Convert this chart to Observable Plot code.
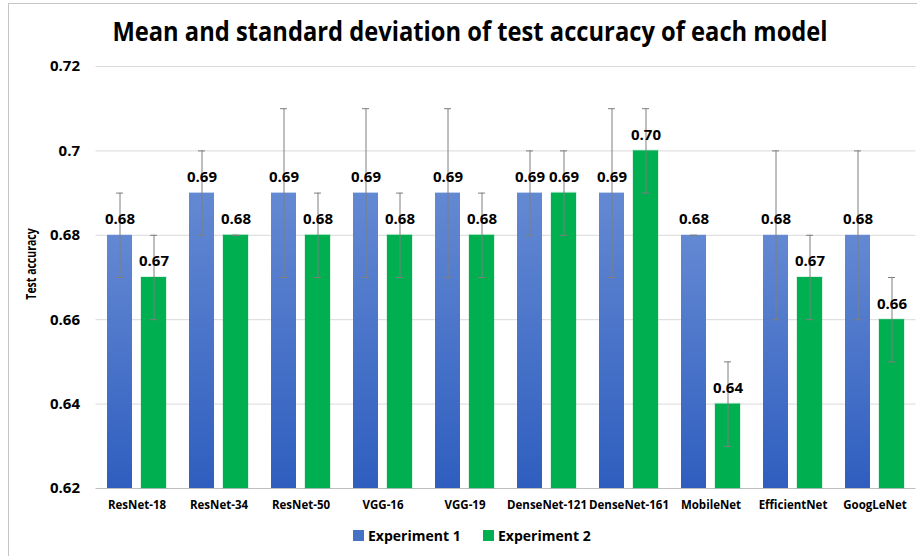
<!DOCTYPE html>
<html>
<head>
<meta charset="utf-8">
<script src="https://cdn.jsdelivr.net/npm/d3@7"></script>
<script src="https://cdn.jsdelivr.net/npm/@observablehq/plot@0.6"></script>
<style>
  html, body { margin: 0; padding: 0; background: #fff; }
  #wrap { position: relative; width: 917px; height: 556px; overflow: hidden; font-family: "Open Sans", sans-serif; }
  #title { position: absolute; top: 13px; left: 469.5px; transform: translateX(-50%) scaleX(0.895); white-space: nowrap;
           font-weight: 700; font-size: 26.5px; line-height: 36px; color: #000; }
  #ylabel { position: absolute; left: 31px; top: 264px; transform: translate(-50%, -50%) rotate(-90deg) scaleX(0.75);
            white-space: nowrap; font-weight: 700; font-size: 14px; line-height: 16px; color: #000; }
  #chart { position: absolute; top: 50px; left: 0; }
  #legend { position: absolute; top: 524px; left: 0; width: 917px; height: 24px; font-size: 14px; font-weight: 700; }
  .li { position: absolute; top: 0; display: flex; align-items: center; height: 22px; white-space: nowrap; }
  .sw { width: 11px; height: 11px; margin-right: 4px; }
  .bt { position: absolute; background: #c6c6c6; }
</style>
</head>
<body>
<div id="wrap">
  <div class="bt" style="left:8px; top:3px; width:909px; height:1px;"></div>
  <div class="bt" style="left:8px; top:3px; width:1px; height:553px;"></div>
  <div id="title">Mean and standard deviation of test accuracy of each model</div>
  <div id="chart"></div>
  <div id="ylabel">Test accuracy</div>
  <div id="legend">
    <div class="li" style="left:353px;"><div class="sw" style="background:#4472c4"></div>Experiment 1</div>
    <div class="li" style="left:483px;"><div class="sw" style="background:#00b050"></div>Experiment 2</div>
  </div>
</div>
<script>
const models = ["ResNet-18", "ResNet-34", "ResNet-50", "VGG-16", "VGG-19", "DenseNet-121", "DenseNet-161", "MobileNet", "EfficientNet", "GoogLeNet"];
const exp1Mean = [0.68, 0.69, 0.69, 0.69, 0.69, 0.69, 0.69, 0.68, 0.68, 0.68];
const exp1Std  = [0.01, 0.01, 0.02, 0.02, 0.02, 0.01, 0.02, 0.00, 0.02, 0.02];
const exp2Mean = [0.67, 0.68, 0.68, 0.68, 0.68, 0.69, 0.70, 0.64, 0.67, 0.66];
const exp2Std  = [0.01, 0.00, 0.01, 0.01, 0.01, 0.01, 0.01, 0.01, 0.01, 0.01];
const yTicks = [0.62, 0.64, 0.66, 0.68, 0.70, 0.72];
const yTickLabels = ["0.62", "0.64", "0.66", "0.68", "0.7", "0.72"];
const yMin = 0.62, yMax = 0.72;

const e1 = models.map((m, i) => ({model: m, mean: exp1Mean[i], lo: exp1Mean[i] - exp1Std[i], hi: exp1Mean[i] + exp1Std[i], base: yMin}));
const e2 = models.map((m, i) => ({model: m, mean: exp2Mean[i], lo: exp2Mean[i] - exp2Std[i], hi: exp2Mean[i] + exp2Std[i], base: yMin}));

const BW = 82;          // band width in px (derived from layout)
const barW = 25, gap = 9;
const outer = (BW - 2 * barW - gap) / 2;   // 11.5
const c1 = outer + barW / 2;               // center of exp1 bar from band left
const c2 = outer + barW + gap + barW / 2;  // center of exp2 bar
const capHalf = 3.5;
const fmt = d3.format(".2f");
const errColor = "#7f7f7f";

const labelFont = {fontSize: 15, fontWeight: 700, fill: "#000"};

const plot = Plot.plot({
  width: 917,
  height: 470,
  marginLeft: 95.5,
  marginRight: 1.5,
  marginTop: 16,
  marginBottom: 32,
  style: {fontFamily: "Open Sans, sans-serif", background: "transparent", overflow: "visible"},
  x: {domain: models, padding: 0, round: false, axis: null},
  y: {domain: [yMin, yMax], axis: null},
  marks: [
    Plot.ruleY(yTicks.slice(1), {stroke: "#d9d9d9", strokeWidth: 1}),
    Plot.ruleY([yMin], {stroke: "#bfbfbf", strokeWidth: 1}),
    Plot.axisY({ticks: yTicks, tickFormat: d => yTickLabels[yTicks.indexOf(d)], tickSize: 0, tickPadding: 16, label: null,
                fontSize: 15, fontWeight: 700, fill: "#000"}),
    Plot.axisX({tickSize: 0, tickPadding: 12, label: null, fontSize: 11.5, fontWeight: 700, fill: "#000"}),
    Plot.barY(e1, {x: "model", y1: "base", y2: "mean", insetLeft: outer, insetRight: BW - outer - barW, fill: "url(#blueGrad)"}),
    Plot.barY(e2, {x: "model", y1: "base", y2: "mean", insetLeft: outer + barW + gap, insetRight: outer, fill: "#00b050",
                   stroke: "#00b050", strokeOpacity: 0.15, strokeWidth: 2}),
    Plot.ruleX(e1, {x: "model", y1: "lo", y2: "hi", dx: c1 - BW / 2, stroke: errColor, strokeWidth: 1}),
    Plot.ruleX(e2, {x: "model", y1: "lo", y2: "hi", dx: c2 - BW / 2, stroke: errColor, strokeWidth: 1}),
    Plot.tickY(e1, {x: "model", y: "lo", insetLeft: c1 - capHalf, insetRight: BW - c1 - capHalf, stroke: errColor}),
    Plot.tickY(e1, {x: "model", y: "hi", insetLeft: c1 - capHalf, insetRight: BW - c1 - capHalf, stroke: errColor}),
    Plot.tickY(e2, {x: "model", y: "lo", insetLeft: c2 - capHalf, insetRight: BW - c2 - capHalf, stroke: errColor}),
    Plot.tickY(e2, {x: "model", y: "hi", insetLeft: c2 - capHalf, insetRight: BW - c2 - capHalf, stroke: errColor}),
    Plot.text(e1, {x: "model", y: "mean", text: d => fmt(d.mean), dx: c1 - BW / 2, dy: -16, ...labelFont}),
    Plot.text(e2, {x: "model", y: "mean", text: d => fmt(d.mean), dx: c2 - BW / 2, dy: -16, ...labelFont})
  ]
});

const ns = "http://www.w3.org/2000/svg";
const defs = document.createElementNS(ns, "defs");
const lg = document.createElementNS(ns, "linearGradient");
lg.setAttribute("id", "blueGrad");
lg.setAttribute("x1", "0"); lg.setAttribute("y1", "0");
lg.setAttribute("x2", "0"); lg.setAttribute("y2", "1");
[["0%", "#6489d3"], ["100%", "#2f5ebf"]].forEach(([o, c]) => {
  const s = document.createElementNS(ns, "stop");
  s.setAttribute("offset", o); s.setAttribute("stop-color", c);
  lg.appendChild(s);
});
defs.appendChild(lg);
plot.insertBefore(defs, plot.firstChild);
document.getElementById("chart").appendChild(plot);
</script>
</body>
</html>
